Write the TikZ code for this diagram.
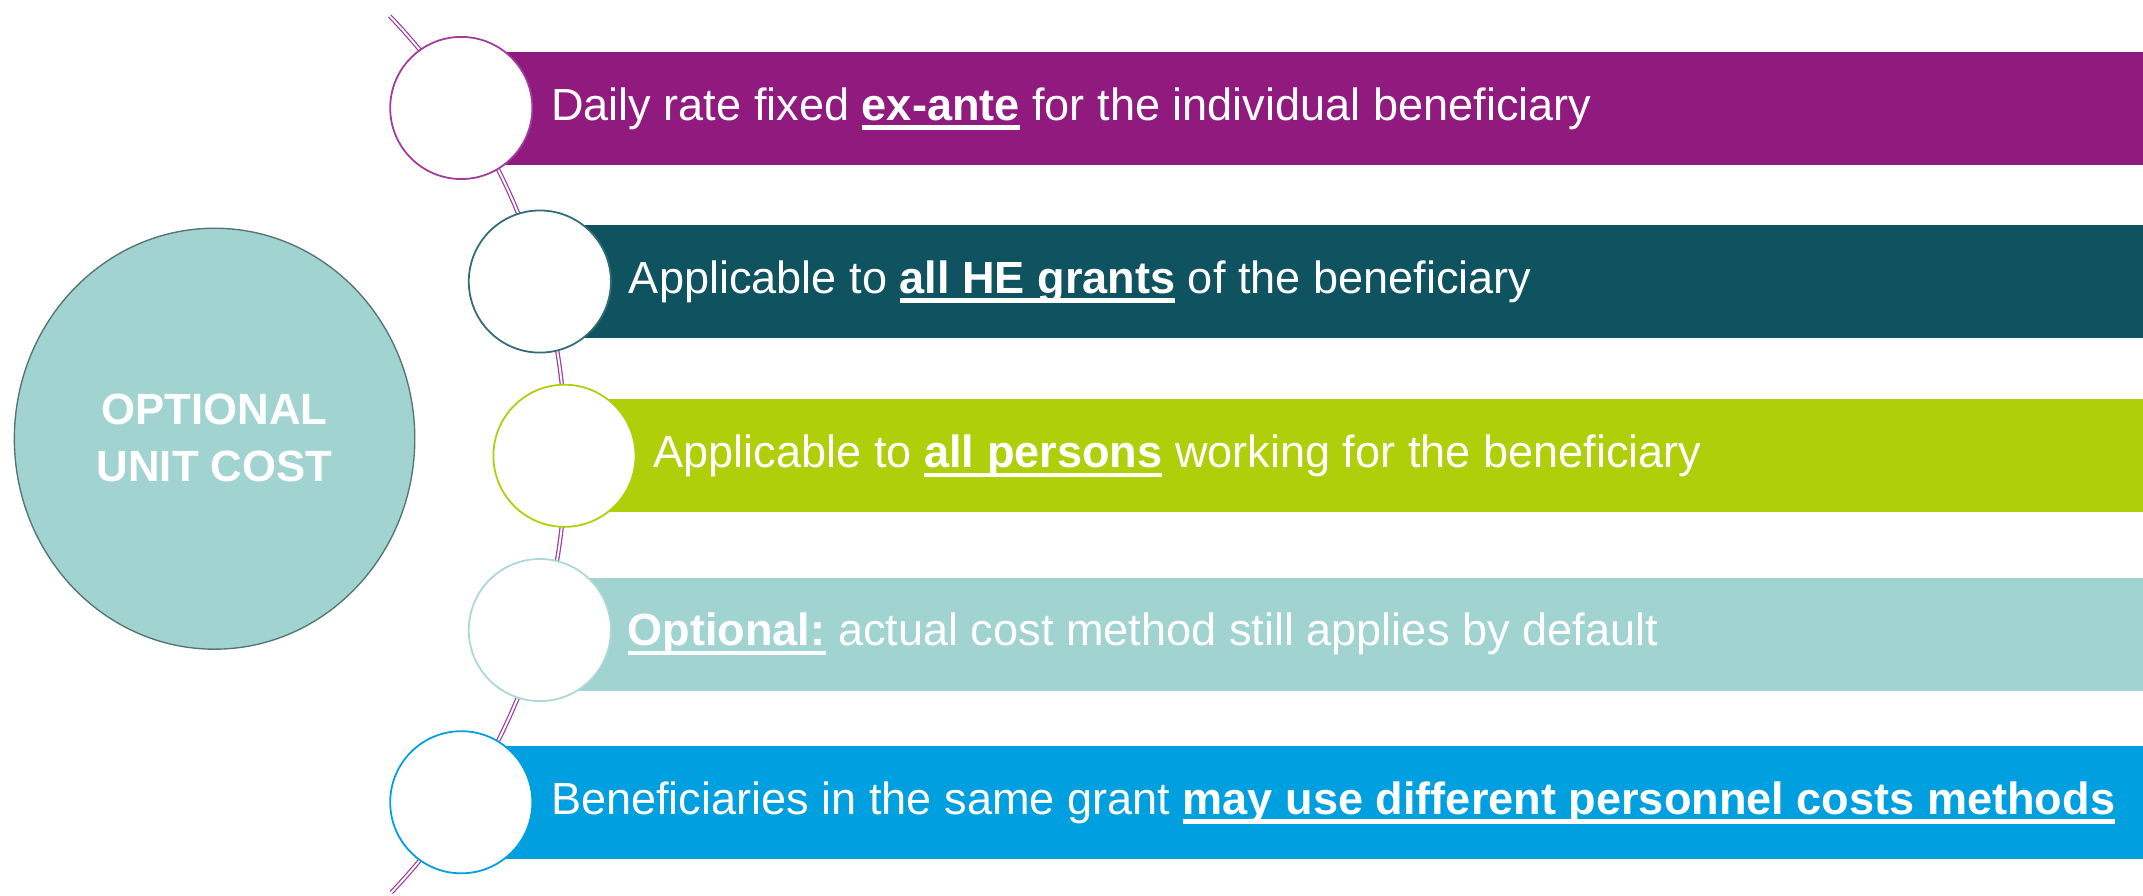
\documentclass[tikz,border=0pt]{standalone}
\usepackage{fontspec}
\setmainfont{Liberation Sans}
\usetikzlibrary{shapes.geometric}
\definecolor{cpurple}{HTML}{901A7E}
\definecolor{cteal}{HTML}{0F5260}
\definecolor{clime}{HTML}{AFCF0B}
\definecolor{clight}{HTML}{A1D4D1}
\definecolor{cblue}{HTML}{009FDF}
\definecolor{carc}{HTML}{A03C9C}
\definecolor{cborder}{HTML}{557573}
\newcommand\ulbf[1]{\setbox0\hbox{\bfseries #1}\rlap{\rule[-7.2pt]{\wd0}{3.4pt}}\box0\relax}
\begin{document}
\begin{tikzpicture}[x=1pt,y=-1pt,
  bar/.style={rectangle, draw=none, minimum height=82.7pt, anchor=west, inner sep=0pt},
  dot/.style={circle, fill=white, line width=1.3pt, minimum size=104pt, inner sep=0pt},
  label/.style={anchor=base west, inner sep=0pt, text=white, font=\fontsize{33}{40}\selectfont}]
\useasboundingbox (0,0) rectangle (1568,655);
% arc
\coordinate (arcc) at (-51,333);
\draw[carc, line width=0.9pt, double=white, double distance=1.4pt]
  (arcc) ++(-43.7:465) arc[start angle=-43.7, end angle=43.5, radius=465];
% bars
\node[bar, fill=cpurple, minimum width=1231pt] (b1) at (337,79.25) {};
\node[bar, fill=cteal, minimum width=1173pt] (b2) at (395,206) {};
\node[bar, fill=clime, minimum width=1155pt] (b3) at (413,333.25) {};
\node[bar, fill=clight, minimum width=1173pt] (b4) at (395,464) {};
\node[bar, fill=cblue, minimum width=1231pt] (b5) at (337,587) {};
% circles
\node[dot, draw=carc] (c1) at (337.5,79) {};
\node[dot, draw=cteal!85!white] (c2) at (395,206) {};
\node[dot, draw=clime] (c3) at (413,333.5) {};
\node[dot, draw=clight!90!white] (c4) at (395,461) {};
\node[dot, draw=cblue] (c5) at (337.5,587) {};
% texts
\node[label] (t1) at (403,88) {Daily rate fixed \ulbf{ex-ante} for the individual beneficiary};
\node[label] (t2) at (460,214.6) {Applicable to \ulbf{all HE grants} of the beneficiary};
\node[label] (t3) at (478,342) {Applicable to \ulbf{all persons} working for the beneficiary};
\node[label] (t4) at (459,472.4) {\ulbf{Optional:} actual cost method still applies by default};
\node[label] (t5) at (403,595.6) {Beneficiaries in the same grant \ulbf{may use different personnel costs methods}};
% main circle
\node[ellipse, fill=clight, draw=cborder, line width=1pt, minimum width=293pt, minimum height=308pt, inner sep=0pt] (main) at (157,321) {};
\node[text=white, align=center, font=\fontsize{32}{42}\selectfont\bfseries] (mt) at (157,320.5) {OPTIONAL\\UNIT COST};
\end{tikzpicture}
\end{document}
